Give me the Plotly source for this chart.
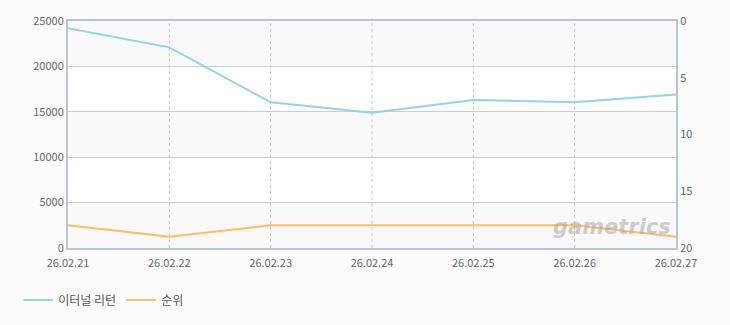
import plotly.graph_objects as go

dates = ["26.02.21", "26.02.22", "26.02.23", "26.02.24", "26.02.25", "26.02.26", "26.02.27"]
users = [24200, 22100, 16050, 14900, 16300, 16050, 16900]
rank = [18, 19, 18, 18, 18, 18, 19]
name_users = "이터널 리턴"
name_rank = "순위"
left_ticks = [0, 5000, 10000, 15000, 20000, 25000]
right_ticks = [0, 5, 10, 15, 20]

FONT = "Noto Sans CJK KR, DejaVu Sans, sans-serif"
frame = "#b3c5d8"

fig = go.Figure()
fig.add_trace(go.Scatter(x=dates, y=users, name=name_users, mode="lines",
                         line=dict(color="#92d2f0", width=2), yaxis="y"))
fig.add_trace(go.Scatter(x=dates, y=rank, name=name_rank, mode="lines",
                         line=dict(color="#fcbe5f", width=2), yaxis="y2"))

shapes = []
for i in range(len(left_ticks) - 1):
    fill = "#f9f9f9" if i % 2 == 0 else "#ffffff"
    shapes.append(dict(type="rect", xref="paper", yref="y", x0=0, x1=1,
                       y0=left_ticks[i], y1=left_ticks[i + 1],
                       fillcolor=fill, line=dict(width=0), layer="below"))
for d in dates[1:-1]:
    shapes.append(dict(type="line", xref="x", yref="paper", x0=d, x1=d, y0=0, y1=1,
                       line=dict(color="#c8c8c8", width=1, dash="3px,3px"), layer="below"))

fig.update_layout(
    width=730, height=325,
    margin=dict(l=68, r=54, t=16, b=77),
    paper_bgcolor="#fcfcfc", plot_bgcolor="#fcfcfc",
    font=dict(family=FONT, size=11, color="#666666"),
    shapes=shapes,
    showlegend=True,
    legend=dict(orientation="h", x=0.025, xanchor="left", xref="container",
                y=0.077, yanchor="middle", yref="container",
                font=dict(size=12, color="#555555"), traceorder="normal"),
    xaxis=dict(type="category", range=[0, len(dates) - 1], showgrid=False,
               showline=True, linecolor=frame, linewidth=2, mirror=True,
               ticks="", ticklabelstandoff=4,
               tickfont=dict(size=11, color="#666666"), zeroline=False),
    yaxis=dict(range=[0, 25000], tickvals=left_ticks,
               ticktext=[str(v) for v in left_ticks], showgrid=True,
               gridcolor="#cccccc", gridwidth=1, showline=True, linecolor=frame,
               linewidth=2, ticks="", zeroline=False,
               tickfont=dict(size=11, color="#666666")),
    yaxis2=dict(range=[20, 0], tickvals=right_ticks, overlaying="y", side="right",
                showgrid=False, showline=True, linecolor=frame, linewidth=2,
                ticks="", zeroline=False, tickfont=dict(size=11, color="#666666")),
    annotations=[dict(text="<b><i>gametrics</i></b>", xref="paper", yref="paper",
                      x=0.995, y=0.03, xanchor="right", yanchor="bottom",
                      showarrow=False, font=dict(size=21, color="rgba(160,160,160,0.5)",
                                                  family="DejaVu Sans"))],
)
fig.write_html("out.html")
